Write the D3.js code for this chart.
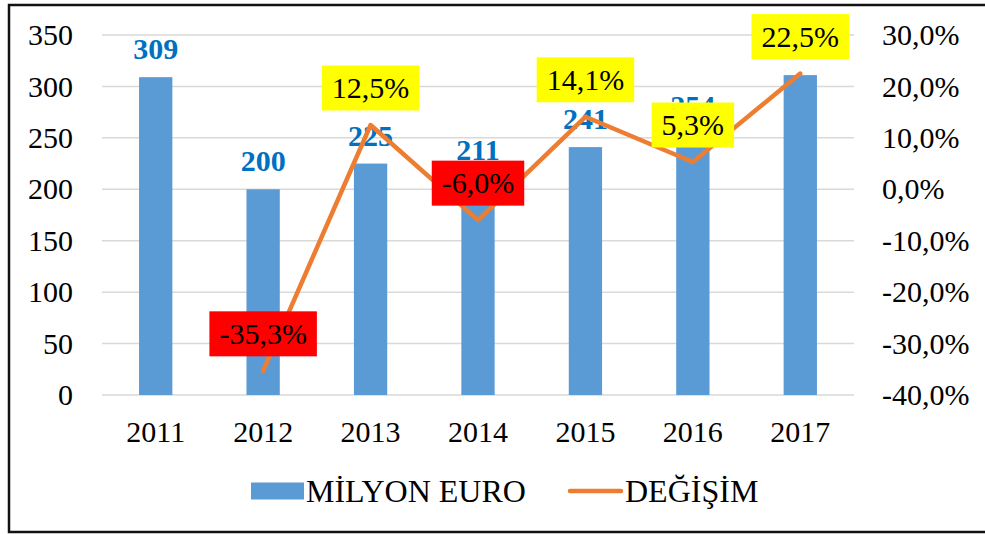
<!DOCTYPE html>
<html>
<head>
<meta charset="utf-8">
<script src="https://cdn.jsdelivr.net/npm/d3@7"></script>
<style>
  body { margin: 0; background: #fff; }
</style>
</head>
<body>
<div id="chart"></div>
<script>
// Chart data
const years = ["2011", "2012", "2013", "2014", "2015", "2016", "2017"];
const milyonEuro = [309, 200, 225, 211, 241, 254, 311];
const degisim = [null, -35.3, 12.5, -6.0, 14.1, 5.3, 22.5];
const leftTicks = [0, 50, 100, 150, 200, 250, 300, 350];
const rightTicks = [-40, -30, -20, -10, 0, 10, 20, 30];
const seriesNames = ["MİLYON EURO", "DEĞİŞİM"];

const width = 985, height = 534;
const plot = { left: 102, right: 854, top: 35, bottom: 395 };
const FONT = "'Liberation Serif'";

const svg = d3.select("#chart").append("svg")
    .attr("width", width)
    .attr("height", height)
    .style("font-family", FONT);

// Outer frame
svg.append("rect")
    .attr("x", 9).attr("y", 5)
    .attr("width", 990).attr("height", 527)
    .attr("fill", "#fff")
    .attr("stroke", "#111")
    .attr("stroke-width", 2.5);

const x = d3.scaleBand()
    .domain(years)
    .range([plot.left, plot.right])
    .paddingInner(0.69)
    .paddingOuter(0.345);

const xc = d => x(d) + x.bandwidth() / 2;

const y = d3.scaleLinear().domain([0, 350]).range([plot.bottom, plot.top]);
const y2 = d3.scaleLinear().domain([-40, 30]).range([plot.bottom, plot.top]);

// Gridlines
svg.append("g")
  .selectAll("line")
  .data(leftTicks)
  .join("line")
    .attr("x1", plot.left).attr("x2", plot.right)
    .attr("y1", d => y(d)).attr("y2", d => y(d))
    .attr("stroke", "#d9d9d9")
    .attr("stroke-width", 1.5);

function styleAxis(g) {
  g.select(".domain").remove();
  g.style("font-family", FONT);
  g.selectAll("text")
      .style("font-family", FONT)
      .style("font-size", "30px")
      .attr("fill", "#000");
}

// Left axis
svg.append("g")
    .attr("transform", `translate(${plot.left - 29},0)`)
    .call(d3.axisLeft(y).tickValues(leftTicks).tickSize(0).tickPadding(0))
    .call(styleAxis);

// Right axis
const fmtPct = v => v.toFixed(1).replace(".", ",") + "%";
svg.append("g")
    .attr("transform", `translate(${plot.right + 28},0)`)
    .call(d3.axisRight(y2).tickValues(rightTicks).tickFormat(fmtPct).tickSize(0).tickPadding(0))
    .call(styleAxis);

// Bottom axis (year labels)
svg.append("g")
    .attr("transform", `translate(0,${plot.bottom + 20})`)
    .call(d3.axisBottom(x).tickSize(0).tickPadding(0))
    .call(styleAxis)
    .selectAll("text").attr("dy", "0.9em");

// Bars
svg.append("g")
  .selectAll("rect")
  .data(years)
  .join("rect")
    .attr("x", d => x(d))
    .attr("width", x.bandwidth())
    .attr("y", (d, i) => y(milyonEuro[i]))
    .attr("height", (d, i) => y(0) - y(milyonEuro[i]))
    .attr("fill", "#5b9bd5");

// Bar value labels
svg.append("g")
  .selectAll("text")
  .data(years)
  .join("text")
    .attr("x", d => xc(d))
    .attr("y", (d, i) => y(milyonEuro[i]) - 18)
    .attr("text-anchor", "middle")
    .style("font-family", FONT)
    .style("font-size", "30px")
    .style("font-weight", "bold")
    .attr("fill", "#0070c0")
    .text((d, i) => milyonEuro[i]);

// Change line
const lineData = years.map((d, i) => ({ year: d, v: degisim[i] })).filter(d => d.v !== null);
svg.append("path")
    .datum(lineData)
    .attr("fill", "none")
    .attr("stroke", "#ed7d31")
    .attr("stroke-width", 4.5)
    .attr("stroke-linejoin", "round")
    .attr("stroke-linecap", "round")
    .attr("d", d3.line().x(d => xc(d.year)).y(d => y2(d.v)));

// Change labels in coloured boxes
const labels = svg.append("g")
  .selectAll("g")
  .data(lineData)
  .join("g")
    .attr("transform", d => `translate(${xc(d.year)},${y2(d.v) - 37})`);

labels.append("text")
    .attr("text-anchor", "middle")
    .attr("dy", "0.34em")
    .style("font-family", FONT)
    .style("font-size", "30px")
    .attr("fill", "#000")
    .text(d => fmtPct(d.v))
    .each(function(d) { d.w = this.getComputedTextLength(); });

labels.insert("rect", "text")
    .attr("x", d => -d.w / 2 - 10)
    .attr("y", -22.5)
    .attr("width", d => d.w + 20)
    .attr("height", 45)
    .attr("fill", d => d.v < 0 ? "#ff0000" : "#ffff00");

// Legend
const legend = svg.append("g").attr("transform", "translate(0,491)");
legend.append("rect")
    .attr("x", 251).attr("y", -8.5)
    .attr("width", 53).attr("height", 17)
    .attr("fill", "#5b9bd5");
legend.append("text")
    .attr("x", 306).attr("dy", "0.34em")
    .style("font-family", FONT)
    .style("font-size", "32px")
    .text(seriesNames[0]);
legend.append("line")
    .attr("x1", 570).attr("x2", 621)
    .attr("stroke", "#ed7d31")
    .attr("stroke-width", 4.5)
    .attr("stroke-linecap", "round");
legend.append("text")
    .attr("x", 625).attr("dy", "0.34em")
    .style("font-family", FONT)
    .style("font-size", "32px")
    .text(seriesNames[1]);
</script>
</body>
</html>
